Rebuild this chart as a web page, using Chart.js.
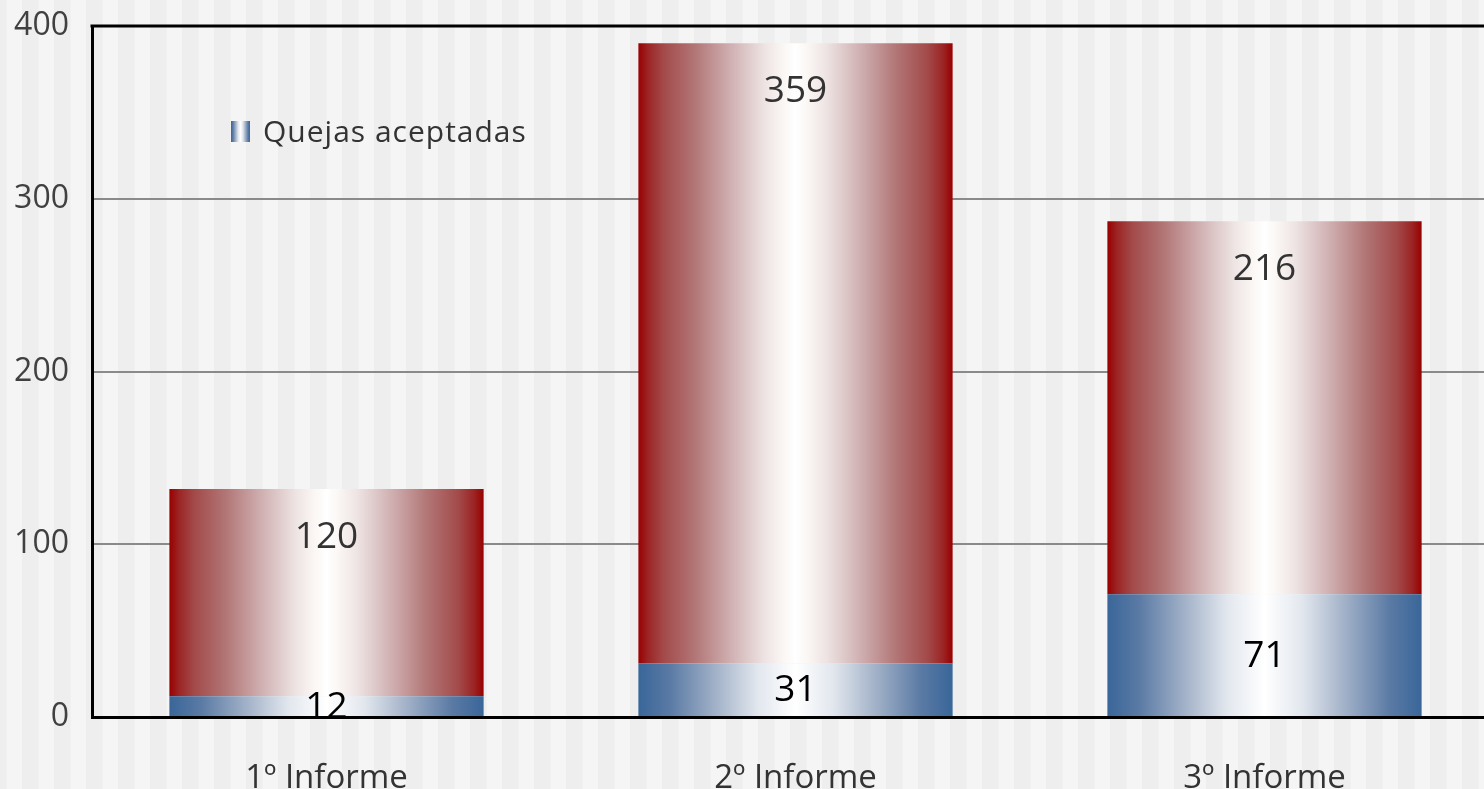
<!DOCTYPE html>
<html>
<head>
<meta charset="utf-8">
<script src="https://cdn.jsdelivr.net/npm/chart.js@4"></script>
<style>
  html, body { margin: 0; padding: 0; overflow: hidden; background: #f5f5f5; }
  #wrap { width: 1484px; height: 789px; overflow: hidden; position: relative; }
  canvas { display: block; }
</style>
</head>
<body>
<div id="wrap"><canvas id="c" width="1520" height="789"></canvas></div>
<script>
const categories = ['1º Informe', '2º Informe', '3º Informe'];
const aceptadas = [12, 31, 71];
const noAceptadas = [120, 359, 216];
const yTicks = [0, 100, 200, 300, 400];
const seriesNames = ['Quejas aceptadas', 'Quejas no aceptadas'];

const FONT = "'Open Sans', 'Noto Sans', sans-serif";
const BAR_PCT = 0.67;

function redGradient(ctx, x0, x1) {
  const g = ctx.createLinearGradient(x0, 0, x1, 0);
  g.addColorStop(0.00, '#990000');
  g.addColorStop(0.03, '#9c2424');
  g.addColorStop(0.08, '#a34a4a');
  g.addColorStop(0.18, '#b27676');
  g.addColorStop(0.29, '#cfaeb0');
  g.addColorStop(0.40, '#ede3e2');
  g.addColorStop(0.46, '#faf6f3');
  g.addColorStop(0.50, '#ffffff');
  g.addColorStop(0.54, '#faf6f3');
  g.addColorStop(0.60, '#ede3e2');
  g.addColorStop(0.71, '#cfaeb0');
  g.addColorStop(0.82, '#b27676');
  g.addColorStop(0.92, '#a34a4a');
  g.addColorStop(0.97, '#9c2424');
  g.addColorStop(1.00, '#990000');
  return g;
}
function blueGradient(ctx, x0, x1) {
  const g = ctx.createLinearGradient(x0, 0, x1, 0);
  g.addColorStop(0.00, '#396699');
  g.addColorStop(0.10, '#5a7aa4');
  g.addColorStop(0.25, '#a4b3c9');
  g.addColorStop(0.38, '#e2e7ee');
  g.addColorStop(0.50, '#ffffff');
  g.addColorStop(0.62, '#e2e7ee');
  g.addColorStop(0.75, '#a4b3c9');
  g.addColorStop(0.90, '#5a7aa4');
  g.addColorStop(1.00, '#396699');
  return g;
}

function barFill(kind) {
  return function(context) {
    const chart = context.chart;
    const xs = chart.scales.x;
    if (!chart.chartArea || !xs || context.dataIndex === undefined) return kind === 'red' ? '#990000' : '#396699';
    const cx = xs.getPixelForValue(context.dataIndex);
    const bw = (xs.width / categories.length) * BAR_PCT;
    const fn = kind === 'red' ? redGradient : blueGradient;
    return fn(chart.ctx, cx - bw / 2, cx + bw / 2);
  };
}

const stripesPlugin = {
  id: 'stripes',
  beforeDraw(chart) {
    const ctx = chart.ctx;
    ctx.save();
    ctx.fillStyle = '#f5f5f5';
    ctx.fillRect(0, 0, chart.width, chart.height);
    ctx.fillStyle = '#eeeeee';
    for (let x = 22 - 32; x < chart.width; x += 32) {
      ctx.fillRect(x, 0, 16.5, chart.height);
    }
    ctx.restore();
  }
};

const framePlugin = {
  id: 'frame',
  afterDraw(chart) {
    const {ctx, chartArea} = chart;
    ctx.save();
    ctx.strokeStyle = '#000000';
    ctx.lineWidth = 3;
    ctx.beginPath();
    ctx.moveTo(chartArea.left - 1.5, chartArea.top);
    ctx.lineTo(chartArea.right, chartArea.top);
    ctx.stroke();
    ctx.restore();
  }
};

const valueLabelsPlugin = {
  id: 'valueLabels',
  afterDatasetsDraw(chart) {
    const ctx = chart.ctx;
    ctx.save();
    ctx.textAlign = 'center';
    ctx.textBaseline = 'middle';
    ctx.font = '37px ' + FONT;
    chart.data.datasets.forEach((ds, di) => {
      const meta = chart.getDatasetMeta(di);
      meta.data.forEach((el, i) => {
        const v = ds.data[i];
        let y;
        if (di === 0) {
          ctx.fillStyle = '#000000';
          y = (el.y + el.base) / 2 + 1;
        } else {
          ctx.fillStyle = '#333333';
          y = el.y + 48;
        }
        ctx.fillText(String(v), el.x, y);
      });
    });
    ctx.restore();
  }
};

const legendPlugin = {
  id: 'customLegend',
  afterDraw(chart) {
    const ctx = chart.ctx;
    ctx.save();
    const bx = 231, by = 121, bw = 19, bh = 21;
    ctx.fillStyle = blueGradient(ctx, bx, bx + bw);
    ctx.fillRect(bx, by, bw, bh);
    ctx.fillStyle = '#333333';
    ctx.font = '30px ' + FONT;
    ctx.letterSpacing = '1px';
    ctx.textAlign = 'left';
    ctx.textBaseline = 'alphabetic';
    ctx.fillText(chart.data.datasets[0].label, 263, 142);
    ctx.restore();
  }
};

new Chart(document.getElementById('c'), {
  type: 'bar',
  data: {
    labels: categories,
    datasets: [
      { label: seriesNames[0], data: aceptadas, backgroundColor: barFill('blue'), borderWidth: 0,
        barPercentage: BAR_PCT, categoryPercentage: 1.0 },
      { label: seriesNames[1], data: noAceptadas, backgroundColor: barFill('red'), borderWidth: 0,
        barPercentage: BAR_PCT, categoryPercentage: 1.0 }
    ]
  },
  options: {
    responsive: false,
    animation: false,
    layout: { padding: { top: 26, right: 21, left: 0, bottom: 0 } },
    plugins: { legend: { display: false }, tooltip: { enabled: false } },
    scales: {
      x: {
        stacked: true,
        grid: { display: true, color: 'rgba(0,0,0,0)', drawTicks: false },
        border: { display: true, color: '#000000', width: 3 },
        ticks: { color: '#333333', font: { family: FONT, size: 33 }, padding: 42, maxRotation: 0 },
        afterFit(scale) { scale.height = 72; scale.paddingLeft = 0; scale.paddingRight = 0; }
      },
      y: {
        stacked: true,
        min: yTicks[0],
        max: yTicks[yTicks.length - 1],
        afterBuildTicks(scale) { scale.ticks = yTicks.map(v => ({ value: v })); },
        grid: {
          drawTicks: false,
          lineWidth: 2,
          color: (c) => (c.tick && (c.tick.value === 0 || c.tick.value === 400)) ? 'rgba(0,0,0,0)' : '#8a8a8a'
        },
        border: { display: true, color: '#000000', width: 3 },
        ticks: { color: '#404040', font: { family: FONT, size: 32 }, padding: 23 },
        afterFit(scale) { scale.width = 92; scale.paddingTop = 0; scale.paddingBottom = 0; }
      }
    }
  },
  plugins: [stripesPlugin, valueLabelsPlugin, framePlugin, legendPlugin]
});
</script>
</body>
</html>
